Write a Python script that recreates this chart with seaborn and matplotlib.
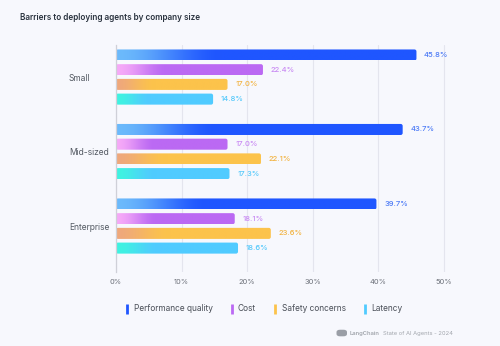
import numpy as np
import pandas as pd
import matplotlib
matplotlib.use("Agg")
import matplotlib.pyplot as plt
from matplotlib.colors import to_rgb
from matplotlib.lines import Line2D
from matplotlib.patches import FancyBboxPatch
import seaborn as sns

# ---- data ----
sizes = ["Small", "Mid-sized", "Enterprise"]
barriers = ["Performance quality", "Cost", "Safety concerns", "Latency"]
performance_quality = [45.8, 43.7, 39.7]
cost = [22.4, 17.0, 18.1]
safety_concerns = [17.0, 22.1, 23.6]
latency = [14.8, 17.3, 18.6]
x_ticks = [0, 10, 20, 30, 40, 50]
x_tick_labels = ["0%", "10%", "20%", "30%", "40%", "50%"]

df = pd.DataFrame({
    "size": sizes * 4,
    "barrier": np.repeat(barriers, 3),
    "value": performance_quality + cost + safety_concerns + latency,
})

# solid colour, gradient start colour, label colour per series
solid = {"Performance quality": "#1f56ff", "Cost": "#bb69f3",
         "Safety concerns": "#fcc34b", "Latency": "#50cbff"}
light = {"Performance quality": "#6cbafb", "Cost": "#f6aaf8",
         "Safety concerns": "#efa87c", "Latency": "#3ff3e1"}
label_col = {"Performance quality": "#4d7bf6", "Cost": "#c98bf3",
             "Safety concerns": "#f2b443", "Latency": "#55c9fb"}

BG = "#f7f8fd"
sns.set_theme(style="white")
plt.rcParams["font.family"] = ["Inter", "DejaVu Sans"]

fig = plt.figure(figsize=(5.0, 3.46), dpi=100, facecolor=BG)
ax = fig.add_axes([0.232, 0.2139, 0.7216, 0.656])
ax.set_facecolor(BG)

sns.barplot(data=df, y="size", x="value", hue="barrier", order=sizes,
            hue_order=barriers, palette=solid, orient="h", width=0.79,
            gap=0.25, legend=False, ax=ax, saturation=1)

XMAX = 55
ylim = (2.617, -0.43)

# px -> data scale for rounding the bar corners
px_x = XMAX / 360.8
px_y = (ylim[0] - ylim[1]) / 227.0

def gradient_img(c0, c1, frac=0.35, n=256):
    t = np.linspace(0, 1, n)
    s = np.clip(t / frac, 0, 1)
    s = s * s * (3 - 2 * s)
    a, b = np.array(to_rgb(c0)), np.array(to_rgb(c1))
    rgb = a[None, :] * (1 - s[:, None]) + b[None, :] * s[:, None]
    return rgb[None, :, :]

for container, name in zip(ax.containers, barriers):
    for bar in container:
        x0, y0 = bar.get_x(), bar.get_y()
        w, h = bar.get_width(), bar.get_height()
        bar.set_visible(False)
        r = 2.0 * px_x
        shape = FancyBboxPatch((x0, y0), w, h,
                               boxstyle=f"round,pad=0,rounding_size={r}",
                               mutation_aspect=px_y / px_x,
                               facecolor="none", edgecolor="none",
                               transform=ax.transData)
        ax.add_patch(shape)
        im = ax.imshow(gradient_img(light[name], solid[name]),
                       extent=[x0, x0 + w, y0 + h, y0], aspect="auto",
                       interpolation="bilinear", zorder=2)
        im.set_clip_path(shape)
        ax.annotate(f"{w:.1f}%", xy=(x0 + w, y0 + h / 2), xytext=(5.5, 0),
                    textcoords="offset points", va="center", ha="left",
                    fontsize=5.5, color=label_col[name], fontweight="medium")

ax.set_xlim(0, XMAX)
ax.set_ylim(*ylim)
ax.set_xticks(x_ticks)
ax.set_xticklabels(x_tick_labels)
ax.grid(axis="x", color="#e4e5ee", linewidth=0.8)
ax.set_axisbelow(True)
for s in ["top", "right", "bottom"]:
    ax.spines[s].set_visible(False)
ax.spines["left"].set_color("#cfd0d8")
ax.spines["left"].set_linewidth(0.9)
ax.set_xlabel("")
ax.set_ylabel("")
ax.tick_params(axis="x", length=0, pad=5, labelsize=5.4, labelcolor="#6b6f78")
ax.tick_params(axis="y", length=0, pad=34, labelsize=6.1, labelcolor="#545a63")
for lab in ax.get_yticklabels():
    lab.set_horizontalalignment("left")

fig.text(0.04, 0.948, "Barriers to deploying agents by company size",
         fontsize=5.9, fontweight="semibold", color="#2b3440",
         ha="left", va="center")

handles = [Line2D([], [], marker="|", markersize=7.5, markeredgewidth=2.0,
                  linestyle="None", color=solid[b]) for b in barriers]
fig.legend(handles, barriers, loc="center", bbox_to_anchor=(0.527, 0.107),
           ncol=4, frameon=False, fontsize=6.0, handlelength=0.6,
           handletextpad=0.45, columnspacing=2.0, labelcolor="#4a4f58")

# footer credit
logo = FancyBboxPatch((0.673, 0.028), 0.021, 0.019,
                      boxstyle="round,pad=0,rounding_size=0.007",
                      transform=fig.transFigure, facecolor="#9a9ea6",
                      edgecolor="none")
fig.patches.append(logo)
brand = fig.text(0.699, 0.037, "LangChain", fontsize=4.2, color="#a2a6ad",
                 fontweight="semibold", ha="left", va="center")
fig.add_artist(matplotlib.text.Annotation(
    "State of AI Agents - 2024", xy=(1.0, 0.5), xycoords=brand,
    xytext=(2.5, 0), textcoords="offset points", fontsize=4.2,
    color="#a2a6ad", ha="left", va="center"))

fig.savefig("out.png", dpi=100, facecolor=BG)
